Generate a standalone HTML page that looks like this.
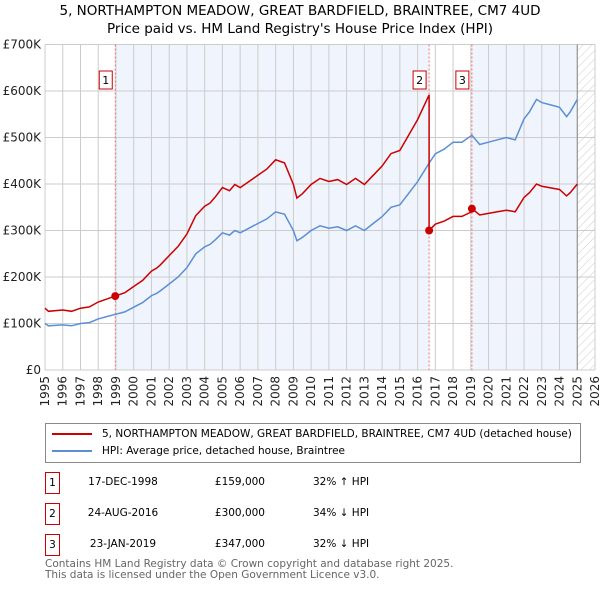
<!DOCTYPE html>
<html><head><meta charset="utf-8"><style>
body{margin:0;background:#fff;font-family:"DejaVu Sans","Liberation Sans",sans-serif;}
#wrap{position:relative;width:600px;height:590px;overflow:hidden;}
.t{position:absolute;white-space:nowrap;color:#000;}
</style></head><body>
<div id="wrap">
<div class="t" style="left:0;width:600px;text-align:center;top:2px;font-size:13.5px;line-height:18px">5, NORTHAMPTON MEADOW, GREAT BARDFIELD, BRAINTREE, CM7 4UD<br>Price paid vs. HM Land Registry's House Price Index (HPI)</div>
<svg id="chart" width="600" height="420" style="position:absolute;left:0;top:0" font-family="DejaVu Sans, Liberation Sans, sans-serif"></svg>
<div style="position:absolute;left:45px;top:423px;width:534px;height:38px;border:1px solid #888;font-size:10.5px">
 <div style="position:absolute;left:6px;top:4px"><span style="display:inline-block;width:40px;height:2px;background:#cc0000;vertical-align:middle;margin-right:10px"></span>5, NORTHAMPTON MEADOW, GREAT BARDFIELD, BRAINTREE, CM7 4UD (detached house)</div>
 <div style="position:absolute;left:6px;top:21px"><span style="display:inline-block;width:40px;height:2px;background:#5b8fd4;vertical-align:middle;margin-right:10px"></span>HPI: Average price, detached house, Braintree</div>
</div>
<div id="table"></div>
<div class="t" style="left:45px;top:559px;font-size:10.5px;color:#666;line-height:11px">Contains HM Land Registry data © Crown copyright and database right 2025.<br>This data is licensed under the Open Government Licence v3.0.</div>
</div>
<script>
const hpiYears=[1995,1995.2,1996,1996.5,1997,1997.5,1998,1998.5,1999,1999.5,2000,2000.5,2001,2001.3,2001.5,2002,2002.5,2003,2003.5,2004,2004.3,2004.6,2005,2005.4,2005.7,2006,2006.5,2007,2007.5,2008,2008.5,2009,2009.2,2009.5,2010,2010.5,2011,2011.5,2012,2012.5,2013,2013.5,2014,2014.5,2015,2015.5,2016,2016.65,2017,2017.5,2018,2018.5,2019.06,2019.5,2020,2020.5,2021,2021.5,2022,2022.3,2022.7,2023,2023.5,2024,2024.4,2024.6,2025];
const hpiValues=[100,95,97,95,100,102,110,115,120,125,135,145,160,165,170,185,200,220,250,265,270,280,295,290,300,295,305,315,325,340,335,300,278,285,300,310,305,308,300,310,300,315,330,350,355,380,405,445,465,475,490,490,505,485,490,495,500,495,540,555,582,575,570,565,545,555,582];
const saleYears=[1998.96,2016.65,2019.06];
const salePrices=[159,300,347];
const saleLabels=["1","2","3"];
const saleDates=["17-DEC-1998","24-AUG-2016","23-JAN-2019"];
const salePriceText=["£159,000","£300,000","£347,000"];
const saleHpiText=["32% ↑ HPI","34% ↓ HPI","32% ↓ HPI"];
const yTicks=[0,100,200,300,400,500,600,700];
const yTickLabels=["£0","£100K","£200K","£300K","£400K","£500K","£600K","£700K"];
const xTickYears=[1995,1996,1997,1998,1999,2000,2001,2002,2003,2004,2005,2006,2007,2008,2009,2010,2011,2012,2013,2014,2015,2016,2017,2018,2019,2020,2021,2022,2023,2024,2025,2026];

const L=45,R=595,T=44.5,B=370;
const X=y=>L+(y-1995)/(2026-1995)*(R-L);
const Y=v=>B-v/700*(B-T);
const NS="http://www.w3.org/2000/svg";
const svg=document.getElementById('chart');
function mk(tag,at,parent){const e=document.createElementNS(NS,tag);for(const k in at)e.setAttribute(k,at[k]);(parent||svg).appendChild(e);return e;}
function hpiAt(y){for(let i=0;i<hpiYears.length-1;i++){if(y<=hpiYears[i+1]){const f=(y-hpiYears[i])/(hpiYears[i+1]-hpiYears[i]);return hpiValues[i]+f*(hpiValues[i+1]-hpiValues[i]);}}return hpiValues[hpiValues.length-1];}

const defs=mk('defs',{});
const pat=mk('pattern',{id:'hatch',width:6,height:6,patternUnits:'userSpaceOnUse',patternTransform:'rotate(45)'},defs);
mk('line',{x1:0,y1:0,x2:0,y2:6,stroke:'#ccc','stroke-width':1},pat);

let e=mk('rect',{x:L,y:T,width:R-L,height:B-T,fill:'#fff'});

e=mk('rect',{x:X(saleYears[0]),y:T,width:X(saleYears[1])-X(saleYears[0]),height:B-T,fill:'#f0f4fd'});

e=mk('rect',{x:X(saleYears[2]),y:T,width:X(2025)-X(saleYears[2]),height:B-T,fill:'#f0f4fd'});

e=mk('rect',{x:X(2025),y:T,width:R-X(2025),height:B-T,fill:'url(#hatch)'});


xTickYears.forEach(yr=>{
 const g=mk('line',{x1:X(yr),x2:X(yr),y1:T,y2:B,stroke:'#ccc','stroke-width':1});
 
 const t=mk('text',{x:0,y:0,'font-size':12,'text-anchor':'end',fill:'#222',transform:`translate(${X(yr)+4},${B+6}) rotate(-90)`});
 t.textContent=yr;
});
yTicks.forEach((v,i)=>{
 const g=mk('line',{x1:L,x2:R,y1:Y(v),y2:Y(v),stroke:'#ccc','stroke-width':1});
 
 const t=mk('text',{x:L-4,y:Y(v)+4,'font-size':12,'text-anchor':'end',fill:'#222'});
 t.textContent=yTickLabels[i];
});
e=mk('line',{x1:X(2025),x2:X(2025),y1:T,y2:B,stroke:'#888','stroke-width':1});


saleYears.forEach((sy,i)=>{
 const l=mk('line',{x1:X(sy),x2:X(sy),y1:T,y2:B,stroke:'#f07070','stroke-width':1,'stroke-dasharray':'2,2'});
 
 const r=mk('rect',{x:X(sy)-16,y:71,width:13,height:18,fill:'#fff',stroke:'#cc0000','stroke-width':1});
 
 const t=mk('text',{x:X(sy)-9.5,y:84,'font-size':11,'text-anchor':'middle',fill:'#000'});
 t.textContent=saleLabels[i];
});

let d='';hpiYears.forEach((y,i)=>{d+=(i?'L':'M')+X(y).toFixed(1)+','+Y(hpiValues[i]).toFixed(1);});
e=mk('path',{d,fill:'none',stroke:'#5b8fd4','stroke-width':1.5});


function ratioFor(y){let k=0;for(let i=0;i<saleYears.length;i++)if(y>=saleYears[i])k=i;return salePrices[k]/hpiAt(saleYears[k]);}
let pts=[];
hpiYears.forEach((y,i)=>{pts.push([y,hpiValues[i]*ratioFor(y)]);});
saleYears.forEach((sy,i)=>{if(i>0)pts.push([sy-0.001,hpiAt(sy)*ratioFor(sy-0.001)]);pts.push([sy,salePrices[i]]);});
pts.sort((a,b)=>a[0]-b[0]);
d='';pts.forEach((p,i)=>{d+=(i?'L':'M')+X(p[0]).toFixed(1)+','+Y(p[1]).toFixed(1);});
e=mk('path',{d,fill:'none',stroke:'#cc0000','stroke-width':1.5});

saleYears.forEach((sy,i)=>{
 const c=mk('circle',{cx:X(sy),cy:Y(salePrices[i]),r:4,fill:'#cc0000'});
 
});

const tb=document.getElementById('table');
saleYears.forEach((sy,i)=>{
 const top=472+i*31;
 const row=document.createElement('div');
 
 
 row.style.cssText=`position:absolute;left:0;top:${top}px;width:600px;height:24px;font-size:10.5px`;
 row.innerHTML=`<div style="position:absolute;left:45px;top:0;width:13px;height:20px;border:1px solid #cc0000;text-align:center;line-height:20px">${saleLabels[i]}</div>`+
 `<div style="position:absolute;left:74px;width:98px;text-align:center;top:4px">${saleDates[i]}</div>`+
 `<div style="position:absolute;left:160px;width:105px;text-align:right;top:4px">${salePriceText[i]}</div>`+
 `<div style="position:absolute;left:313px;top:4px">${saleHpiText[i]}</div>`;
 tb.appendChild(row);
});
</script>
</body></html>
